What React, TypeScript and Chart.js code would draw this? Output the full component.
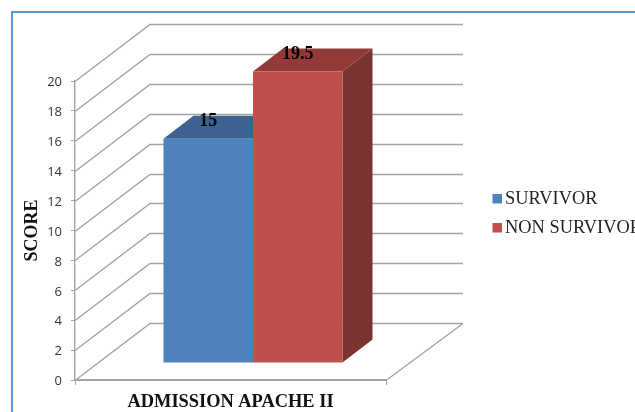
import React, { useEffect, useRef } from "react";
import { Chart, registerables } from "chart.js";

Chart.register(...registerables);

const categories = ["ADMISSION APACHE II"];
const survivorScores = [15];
const nonSurvivorScores = [19.5];
const seriesNames = ["SURVIVOR", "NON SURVIVOR"];
const frontColors = ["#4f81bd", "#c0504d"];
const topColors = ["#3d6290", "#923a38"];
const sideColors = ["#345478", "#7c3230"];

const SERIF = '"Liberation Serif", serif';
const GRID_COLOR = "#a3a3a3";

// Oblique projection used for the box: wall depth and how far the bars sit in from the front.
const WALL_DX = 75;
const WALL_DX_RIGHT = 77;
const WALL_DY = -57;
const BAR_INSET_DX = 22.5;
const BAR_INSET_DY = -17;
const BAR_DEPTH_DX = 30;
const BAR_DEPTH_DY = -23;

const polygon = (ctx: CanvasRenderingContext2D, pts: number[][], fill: string) => {
  ctx.beginPath();
  pts.forEach(([x, y], i) => (i ? ctx.lineTo(x, y) : ctx.moveTo(x, y)));
  ctx.closePath();
  ctx.fillStyle = fill;
  ctx.fill();
};

const boxPlugin = {
  id: "box3d",
  beforeDatasetsDraw(chart: any) {
    const { ctx, chartArea, scales } = chart;
    const { left, right, bottom } = chartArea;

    // Side wall, back wall and right floor edge
    ctx.save();
    ctx.strokeStyle = GRID_COLOR;
    ctx.lineWidth = 1.4;
    scales.y.ticks.forEach((tick: any) => {
      const y = Math.round(scales.y.getPixelForValue(tick.value)) + 0.5;
      ctx.beginPath();
      ctx.moveTo(left, y);
      ctx.lineTo(left + WALL_DX, y + WALL_DY);
      ctx.lineTo(right + WALL_DX_RIGHT, y + WALL_DY);
      ctx.stroke();
    });
    ctx.beginPath();
    ctx.moveTo(right, bottom + 0.5);
    ctx.lineTo(right + WALL_DX_RIGHT, bottom + WALL_DY + 0.5);
    ctx.stroke();

    // Top and side faces, painted before the front faces cover them
    chart.data.datasets.forEach((_: any, i: number) => {
      const bar = chart.getDatasetMeta(i).data[0];
      const { x, y, base, width } = bar.getProps(["x", "y", "base", "width"], true);
      const x0 = x - width / 2 + BAR_INSET_DX;
      const x1 = x + width / 2 + BAR_INSET_DX;
      const yTop = y + BAR_INSET_DY;
      const yBase = base + BAR_INSET_DY;
      polygon(ctx, [
        [x0, yTop],
        [x0 + BAR_DEPTH_DX, yTop + BAR_DEPTH_DY],
        [x1 + BAR_DEPTH_DX, yTop + BAR_DEPTH_DY],
        [x1, yTop],
      ], topColors[i]);
      polygon(ctx, [
        [x1, yTop],
        [x1 + BAR_DEPTH_DX, yTop + BAR_DEPTH_DY],
        [x1 + BAR_DEPTH_DX, yBase + BAR_DEPTH_DY],
        [x1, yBase],
      ], sideColors[i]);
    });
    ctx.restore();

    // Front faces are drawn by Chart.js, shifted into the box
    ctx.save();
    ctx.translate(BAR_INSET_DX, BAR_INSET_DY);
  },
  afterDatasetsDraw(chart: any) {
    const { ctx } = chart;
    ctx.restore();

    // Value labels sit on the top face of each bar
    ctx.save();
    ctx.font = `bold 18px ${SERIF}`;
    ctx.fillStyle = "#000";
    ctx.textAlign = "center";
    ctx.textBaseline = "middle";
    chart.data.datasets.forEach((ds: any, i: number) => {
      const bar = chart.getDatasetMeta(i).data[0];
      ctx.fillText(String(ds.data[0]), bar.x + BAR_INSET_DX, bar.y + BAR_INSET_DY - 17);
    });
    ctx.restore();

    // Legend, running off the right edge of the page
    ctx.save();
    ctx.font = `18.4px ${SERIF}`;
    ctx.textBaseline = "middle";
    chart.data.datasets.forEach((ds: any, i: number) => {
      const y = 199 + i * 29;
      ctx.fillStyle = ds.backgroundColor;
      ctx.fillRect(492.5, y - 5, 9.5, 9.5);
      ctx.fillStyle = "#222";
      ctx.fillText(ds.label, 505, y + 0.5);
    });
    ctx.restore();
  },
};

export default function App() {
  const ref = useRef<HTMLCanvasElement>(null);

  useEffect(() => {
    document.body.style.margin = "0";
    const chart = new Chart(ref.current!, {
      type: "bar",
      data: {
        labels: categories,
        datasets: [
          {
            label: seriesNames[0],
            data: survivorScores,
            backgroundColor: frontColors[0],
            clip: false,
            barPercentage: 1,
            categoryPercentage: 0.5756,
          },
          {
            label: seriesNames[1],
            data: nonSurvivorScores,
            backgroundColor: frontColors[1],
            clip: false,
            barPercentage: 1,
            categoryPercentage: 0.5756,
          },
        ],
      },
      options: {
        animation: false,
        responsive: false,
        layout: { padding: { top: 81, right: 249, bottom: 0, left: 0 } },
        plugins: { legend: { display: false }, tooltip: { enabled: false }, title: { display: false } },
        scales: {
          x: {
            afterFit: (s: any) => {
              s.height = 32;
            },
            border: { display: true, color: GRID_COLOR, width: 2 },
            grid: { drawOnChartArea: false, drawTicks: true, tickLength: 5, color: GRID_COLOR, offset: true },
            ticks: {
              color: "#111",
              font: { family: SERIF, size: 18.4, weight: "bold" },
              padding: 6,
              maxRotation: 0,
              autoSkip: false,
            },
          },
          y: {
            min: 0,
            max: 20,
            afterFit: (s: any) => {
              s.width = 75;
            },
            border: { display: true, color: GRID_COLOR, width: 1.4 },
            grid: { drawOnChartArea: false, drawTicks: true, tickLength: 4, color: GRID_COLOR },
            ticks: {
              stepSize: 2,
              color: "#333",
              font: { family: '"Open Sans", sans-serif', size: 13 },
              padding: 9,
              labelOffset: 1.5,
            },
            title: {
              display: true,
              text: "SCORE",
              color: "#111",
              font: { family: SERIF, size: 18, weight: "bold" },
              padding: { top: 22, bottom: 0 },
            },
          },
        },
      },
      plugins: [boxPlugin],
    } as any);
    return () => chart.destroy();
  }, []);

  return (
    <div style={{ position: "relative", width: 635, height: 412, overflow: "hidden", background: "#fff" }}>
      <canvas ref={ref} width={635} height={412} style={{ display: "block" }} />
      <div
        style={{
          position: "absolute",
          left: 11,
          top: 11,
          width: 700,
          height: 500,
          border: "2px solid #5b9bd5",
          pointerEvents: "none",
        }}
      />
    </div>
  );
}
